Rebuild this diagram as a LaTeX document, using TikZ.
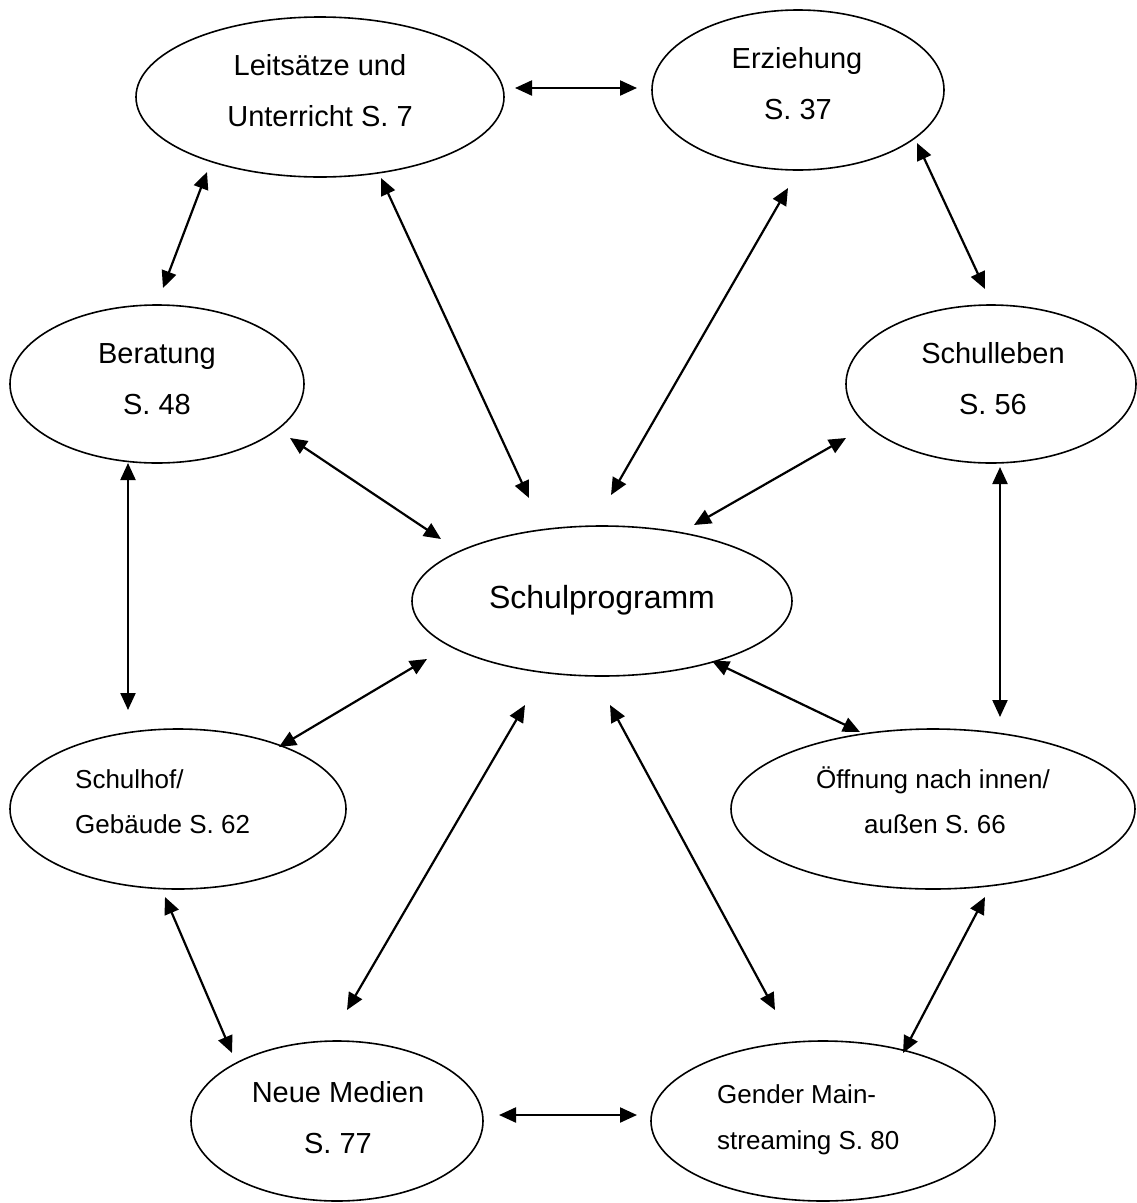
\documentclass[tikz,border=0pt]{standalone}
\usepackage{fontspec}
\setmainfont{Liberation Sans}
\usetikzlibrary{shapes.geometric,arrows.meta}
\begin{document}
\begin{tikzpicture}[x=1pt,y=-1pt,
  oval/.style={draw, ellipse, line width=1.6pt, inner sep=0pt},
  big/.style={inner sep=0pt, anchor=base, font=\fontsize{29}{35}\selectfont},
  mid/.style={inner sep=0pt, anchor=base, font=\fontsize{26}{31}\selectfont},
  sml/.style={inner sep=0pt, anchor=base west, font=\fontsize{26}{31}\selectfont},
  dbl/.style={line width=2.2pt, {Triangle[length=17pt,width=15pt]}-{Triangle[length=17pt,width=15pt]}}]
\fill[white] (0,0) rectangle (1137,1203);
\useasboundingbox (0,0) rectangle (1137,1203);

% ellipses
\node[oval, minimum width=368pt, minimum height=160pt] (L) at (320,97) {};
\node[oval, minimum width=292pt, minimum height=160pt] (E) at (798,90) {};
\node[oval, minimum width=294pt, minimum height=158pt] (B) at (157,384) {};
\node[oval, minimum width=290pt, minimum height=158pt] (SL) at (991,384) {};
\node[oval, minimum width=380pt, minimum height=150pt] (P) at (602,601) {};
\node[oval, minimum width=336pt, minimum height=160pt] (SH) at (178,809) {};
\node[oval, minimum width=404pt, minimum height=160pt] (O) at (933,809) {};
\node[oval, minimum width=292pt, minimum height=160pt] (N) at (337,1121) {};
\node[oval, minimum width=344pt, minimum height=160pt] (G) at (823,1121) {};

% texts
\node[big] (L1) at (320,75) {Leitsätze und};
\node[big] (L2) at (320,126) {Unterricht S. 7};
\node[big] (E1) at (797,68) {Erziehung};
\node[big] (E2) at (798,119) {S. 37};
\node[big] (B1) at (157,363) {Beratung};
\node[big] (B2) at (157,414) {S. 48};
\node[big] (SL1) at (993,363) {Schulleben};
\node[big] (SL2) at (993,414) {S. 56};
\node[inner sep=0pt, anchor=base, font=\fontsize{32}{38}\selectfont] (P1) at (602,608) {Schulprogramm};
\node[sml] (SH1) at (75,788) {Schulhof/};
\node[sml] (SH2) at (75,833) {Gebäude S. 62};
\node[mid] (O1) at (933,788) {Öffnung nach innen/};
\node[mid] (O2) at (935,833) {außen S. 66};
\node[big] (N1) at (338,1102) {Neue Medien};
\node[big] (N2) at (338,1153) {S. 77};
\node[sml] (G1) at (717,1103) {Gender Main-};
\node[sml] (G2) at (717,1149) {streaming S. 80};

% arrow end points
\coordinate (LEa) at (515,88);   \coordinate (LEb) at (637,88);
\coordinate (LBa) at (207,172);  \coordinate (LBb) at (163,288);
\coordinate (LPa) at (381,178);  \coordinate (LPb) at (529,498);
\coordinate (EPa) at (788,188);  \coordinate (EPb) at (611,495);
\coordinate (ESa) at (917,143);  \coordinate (ESb) at (985,289);
\coordinate (BPa) at (290,438);  \coordinate (BPb) at (441,539);
\coordinate (SPa) at (846,438);  \coordinate (SPb) at (694,525);
\coordinate (BHa) at (128,463);  \coordinate (BHb) at (128,710);
\coordinate (SOa) at (1000,467); \coordinate (SOb) at (1000,717);
\coordinate (PHa) at (427,659);  \coordinate (PHb) at (279,747);
\coordinate (POa) at (712,661);  \coordinate (POb) at (860,732);
\coordinate (PNa) at (525,705);  \coordinate (PNb) at (347,1010);
\coordinate (PGa) at (610,705);  \coordinate (PGb) at (775,1010);
\coordinate (HNa) at (165,897);  \coordinate (HNb) at (232,1053);
\coordinate (OGa) at (985,897);  \coordinate (OGb) at (903,1053);
\coordinate (NGa) at (499,1115); \coordinate (NGb) at (637,1115);

\draw[dbl] (LEa) -- (LEb);
\draw[dbl] (LBa) -- (LBb);
\draw[dbl] (LPa) -- (LPb);
\draw[dbl] (EPa) -- (EPb);
\draw[dbl] (ESa) -- (ESb);
\draw[dbl] (BPa) -- (BPb);
\draw[dbl] (SPa) -- (SPb);
\draw[dbl] (BHa) -- (BHb);
\draw[dbl] (SOa) -- (SOb);
\draw[dbl] (PHa) -- (PHb);
\draw[dbl] (POa) -- (POb);
\draw[dbl] (PNa) -- (PNb);
\draw[dbl] (PGa) -- (PGb);
\draw[dbl] (HNa) -- (HNb);
\draw[dbl] (OGa) -- (OGb);
\draw[dbl] (NGa) -- (NGb);
\end{tikzpicture}
\end{document}
